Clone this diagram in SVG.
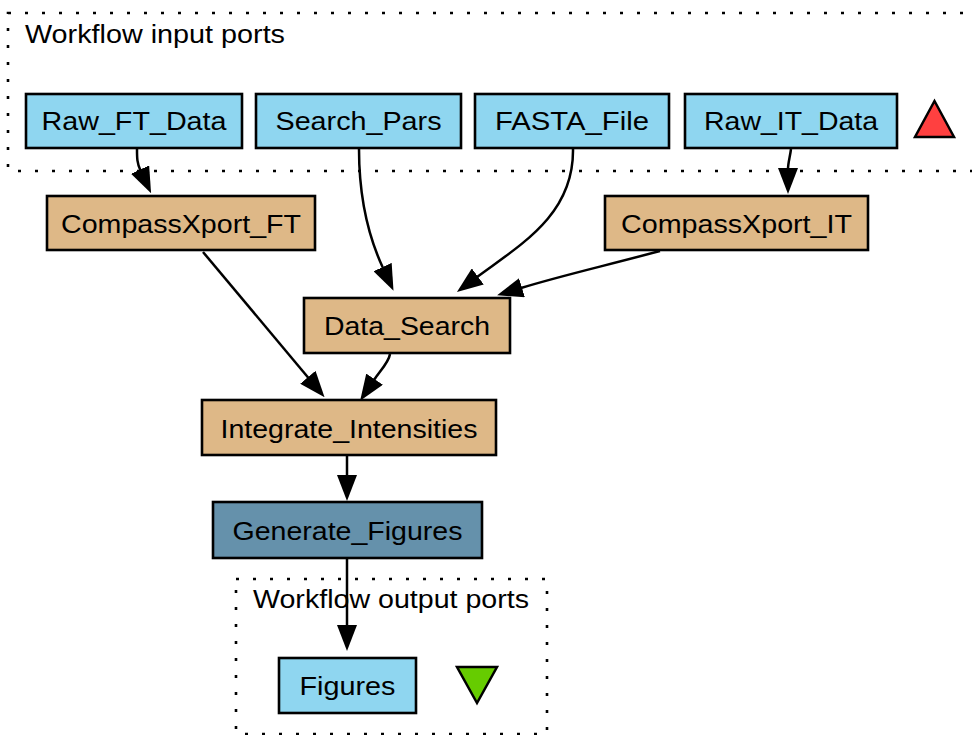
<svg xmlns="http://www.w3.org/2000/svg" width="972" height="735" viewBox="0 0 972 735">
  <style>
    .lbl { font-family: "Liberation Sans", Arial, Helvetica, sans-serif; font-size: 26.5px; fill: #000; }
    .mid { text-anchor: middle; }
    .box { stroke: #000; stroke-width: 2.6; }
    .port { fill: #8fd6f0; }
    .proc { fill: #deb887; }
    .rsh { fill: #6591ab; }
    .cluster { fill: none; stroke: #000; stroke-width: 2.6; stroke-dasharray: 3 14; }
    .edge { fill: none; stroke: #000; stroke-width: 2.5; marker-end: url(#arrow); }
  </style>
  <defs>
    <marker id="arrow" markerUnits="userSpaceOnUse" viewBox="0 0 26 20" markerWidth="26" markerHeight="20" refX="1" refY="10" orient="auto">
      <path d="M0,0 L26,10 L0,20 z" fill="#000"/>
    </marker>
  </defs>

  <rect width="972" height="735" fill="#fff"/>

  <!-- input ports cluster -->
  <g id="cluster_inputs">
    <rect class="cluster" x="8" y="13" width="990" height="158"/>
    <text class="lbl" x="25" y="43" textLength="260" lengthAdjust="spacingAndGlyphs">Workflow input ports</text>
    <polygon points="934.5,101 915,137 954,137" fill="#ff4040" stroke="#000" stroke-width="2.5"/>
  </g>

  <!-- output ports cluster -->
  <g id="cluster_outputs">
    <rect class="cluster" x="236" y="579" width="311" height="155"/>
    <text class="lbl" x="253" y="608" textLength="276" lengthAdjust="spacingAndGlyphs">Workflow output ports</text>
    <polygon points="457,667 497,667 477,703" fill="#66cc00" stroke="#000" stroke-width="2.5"/>
  </g>

  <!-- connectors -->
  <g id="edges">
    <path class="edge" d="M137,149 C137,158 137,163 140.5,170.5"/>
    <path class="edge" d="M359,149 C359,200 370,240 383,268"/>
    <path class="edge" d="M573,149 C574,215 520,245 477,277"/>
    <path class="edge" d="M791,149 C790,157 788,163 788,169"/>
    <path class="edge" d="M660,251 C600,267 560,276 521,288"/>
    <path class="edge" d="M203,252 L308.5,378"/>
    <path class="edge" d="M390,354 C389,362 380,371 374,380"/>
    <path class="edge" d="M347,456 L347,476"/>
    <path class="edge" d="M347,558 L347,626"/>
  </g>

  <!-- input port nodes -->
  <g id="Raw_FT_Data">
    <rect class="box port" x="26" y="94" width="216" height="54"/>
    <text class="lbl mid" x="134" y="130" textLength="185" lengthAdjust="spacingAndGlyphs">Raw_FT_Data</text>
  </g>
  <g id="Search_Pars">
    <rect class="box port" x="256" y="94" width="205" height="54"/>
    <text class="lbl mid" x="358.5" y="130" textLength="166" lengthAdjust="spacingAndGlyphs">Search_Pars</text>
  </g>
  <g id="FASTA_File">
    <rect class="box port" x="475" y="94" width="194" height="54"/>
    <text class="lbl mid" x="572" y="130" textLength="154" lengthAdjust="spacingAndGlyphs">FASTA_File</text>
  </g>
  <g id="Raw_IT_Data">
    <rect class="box port" x="685" y="94" width="212" height="54"/>
    <text class="lbl mid" x="791" y="130" textLength="174" lengthAdjust="spacingAndGlyphs">Raw_IT_Data</text>
  </g>

  <!-- processors -->
  <g id="CompassXport_FT">
    <rect class="box proc" x="47" y="196" width="268" height="54"/>
    <text class="lbl mid" x="181" y="232.5" textLength="240" lengthAdjust="spacingAndGlyphs">CompassXport_FT</text>
  </g>
  <g id="CompassXport_IT">
    <rect class="box proc" x="605" y="196" width="263" height="54"/>
    <text class="lbl mid" x="736.5" y="232.5" textLength="231" lengthAdjust="spacingAndGlyphs">CompassXport_IT</text>
  </g>
  <g id="Data_Search">
    <rect class="box proc" x="304" y="298" width="206" height="55"/>
    <text class="lbl mid" x="407" y="335" textLength="166" lengthAdjust="spacingAndGlyphs">Data_Search</text>
  </g>
  <g id="Integrate_Intensities">
    <rect class="box proc" x="202" y="400" width="294" height="55"/>
    <text class="lbl mid" x="349" y="437.5" textLength="257" lengthAdjust="spacingAndGlyphs">Integrate_Intensities</text>
  </g>
  <g id="Generate_Figures">
    <rect class="box rsh" x="213" y="502" width="269" height="56"/>
    <text class="lbl mid" x="347.5" y="539.5" textLength="230" lengthAdjust="spacingAndGlyphs">Generate_Figures</text>
  </g>

  <!-- output port node -->
  <g id="Figures">
    <rect class="box port" x="279" y="658" width="137" height="55"/>
    <text class="lbl mid" x="347.5" y="695" textLength="96" lengthAdjust="spacingAndGlyphs">Figures</text>
  </g>
</svg>
